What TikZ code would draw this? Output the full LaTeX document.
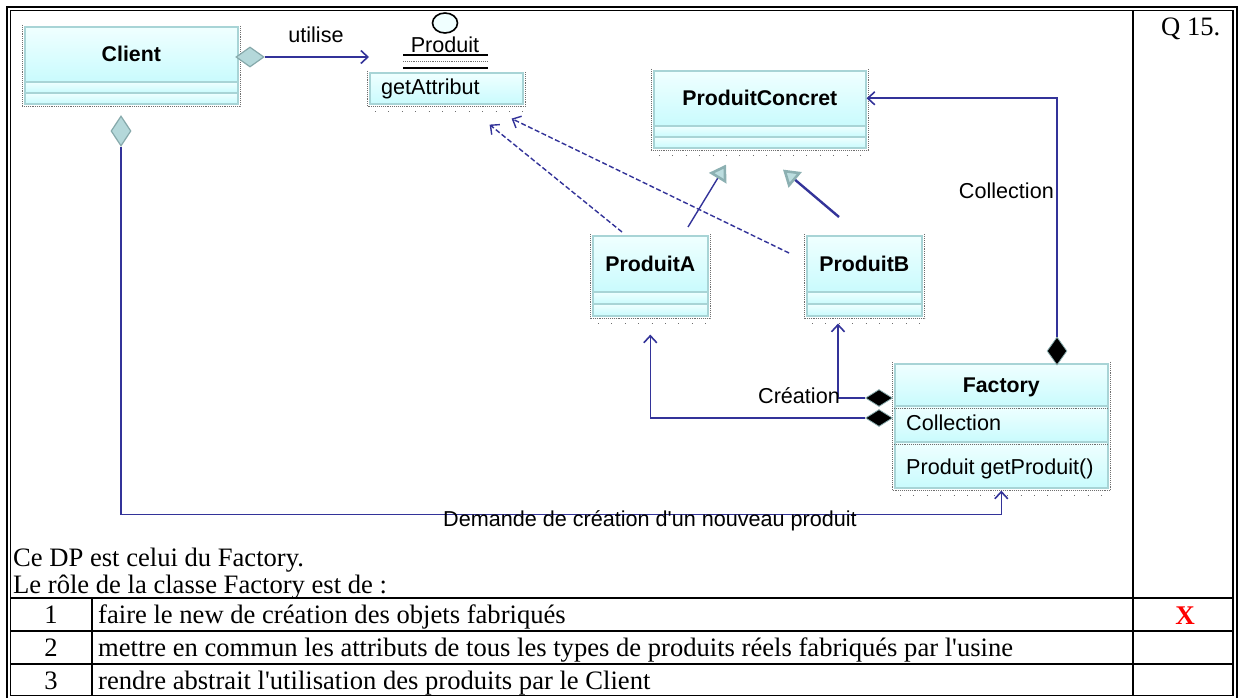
\documentclass[tikz,border=0pt]{standalone}
\usepackage{fontspec}
\setmainfont{Liberation Serif}
\newfontfamily\arial{Liberation Sans}
\usetikzlibrary{shapes.geometric,arrows.meta,calc}
\definecolor{uline}{HTML}{333399}
\definecolor{boxedge}{HTML}{A8D4D6}
\definecolor{boxtop}{HTML}{F0FFFF}
\definecolor{boxbot}{HTML}{C9FBFD}
\definecolor{dshadow}{HTML}{6E6E6E}
\definecolor{odiam}{HTML}{B4D8DA}
\definecolor{odiamedge}{HTML}{86A9AB}
\definecolor{trifill}{HTML}{BCDDDF}
\definecolor{triedge}{HTML}{8CB0B2}
\definecolor{xred}{HTML}{FF0000}
\newcommand\mkcomp[5]{\node[comp, minimum width=#4pt, minimum height=#5pt] (#1) at (#2,#3) {};}
\newcommand\clsdeco[2]{%
  \draw[shadowdot] ([xshift=-2pt,yshift=1pt]#1.north west) -- ([xshift=-2pt,yshift=-2pt]#2.south west)
     -- ([xshift=2pt,yshift=-2pt]#2.south east) -- ([xshift=2pt,yshift=1pt]#1.north east);}
\newcommand\clsticks[1]{%
  \draw[tickline] ([xshift=6pt,yshift=-7pt]#1.south west) -- ([yshift=-7pt]#1.south east);}
\newcommand\sq{\textquotesingle}
\begin{document}
\begin{tikzpicture}[x=1pt,y=-1pt,
  comp/.style={draw=boxedge, line width=1.6pt, top color=boxtop, bottom color=boxbot, inner sep=0pt, anchor=north west},
  shadowdot/.style={draw=dshadow, line width=0.8pt, dash pattern=on 0.8pt off 1.1pt},
  tickline/.style={draw=dshadow, line width=0.9pt, dash pattern=on 0.9pt off 12.5pt},
  clsname/.style={font=\arial\bfseries\fontsize{21.3}{24}\selectfont, inner sep=0pt},
  sanstxt/.style={font=\arial\fontsize{21.6}{24}\selectfont, inner sep=0pt},
  serif/.style={font=\fontsize{26.6}{30}\selectfont, inner sep=0pt},
  frameline/.style={draw=black, line width=1.6pt},
  umlline/.style={draw=uline, line width=1.6pt},
  dashline/.style={draw=uline, line width=1.4pt, dash pattern=on 5pt off 2.5pt},
  openarrow/.style={-{Straight Barb[length=7pt,width=13pt]}},
  gentip/.style={-{Triangle[length=16pt,width=20pt,fill=trifill,color=triedge,line width=2.6pt]}},
  odia/.style={diamond, draw=odiamedge, fill=odiam, line width=1.2pt, inner sep=0pt},
  fdia/.style={diamond, draw=triedge, fill=black, line width=0.8pt, inner sep=0pt}
]
\useasboundingbox (0,0) rectangle (1239,698);
\fill[white] (0,0) rectangle (1239,698);

% ---------- frame and table ----------
\draw[frameline] (7,7) rectangle (1237,699);
\draw[frameline] (10.5,10.5) rectangle (1233,695.5);
\draw[frameline] (1133,10.5) -- (1133,695.5);
\draw[frameline] (10.5,598) -- (1233,598);
\draw[frameline] (10.5,631) -- (1233,631);
\draw[frameline] (10.5,664) -- (1233,664);
\draw[frameline] (92,598) -- (92,695.5);

\node[serif, anchor=base west] (q) at (1161,36) {Q 15.};
\node[serif, anchor=base west] (t1) at (13,566) {Ce DP est celui du Factory.};
\node[serif, anchor=base west] (t2) at (13,593) {Le rôle de la classe Factory est de :};
\node[serif, anchor=base] (n1) at (51,623.5) {1};
\node[serif, anchor=base] (n2) at (51,656.5) {2};
\node[serif, anchor=base] (n3) at (51,689) {3};
\node[serif, anchor=base west] (r1) at (98,623.5) {faire le new de création des objets fabriqués};
\node[serif, anchor=base west] (r2) at (98,656.5) {mettre en commun les attributs de tous les types de produits réels fabriqués par l\sq usine};
\node[serif, anchor=base west] (r3) at (98,689) {rendre abstrait l\sq utilisation des produits par le Client};
\node[serif, anchor=base, text=xred, font=\bfseries\fontsize{27}{30}\selectfont] (xmark) at (1185,624) {X};

% ---------- Client ----------
\mkcomp{cln}{24}{26}{213}{55}
\mkcomp{cla}{24}{81}{213}{11}
\mkcomp{clo}{24}{92}{213}{11}
\clsdeco{cln}{clo}
\node[clsname] (clientlbl) at (cln.center) {Client};

% ---------- Produit (interface) ----------
\node[ellipse, draw=black, line width=1.6pt, fill=boxtop, minimum width=25pt, minimum height=20pt, inner sep=0pt] (pcirc) at (445,23) {};
\node[sanstxt, anchor=base] (pname) at (445,53) {Produit};
\draw[line width=1.6pt] (403,55) -- (488,55);
\draw[shadowdot] (403,61.5) -- (488,61.5);
\draw[line width=1.6pt] (403,68) -- (488,68);
\mkcomp{pga}{369}{72}{153}{31}
\clsdeco{pga}{pga}
\clsticks{pga}
\node[sanstxt, anchor=base west] (getattr) at (381,95) {getAttribut};

% ---------- ProduitConcret ----------
\mkcomp{pcn}{653}{70}{212}{55}
\mkcomp{pca}{653}{125}{212}{11}
\mkcomp{pco}{653}{136}{212}{11}
\clsdeco{pcn}{pco}
\clsticks{pco}
\node[clsname] (pclbl) at (pcn.center) {ProduitConcret};

% ---------- ProduitA ----------
\mkcomp{pan}{592}{235}{115}{56}
\mkcomp{paa}{592}{291}{115}{12}
\mkcomp{pao}{592}{303}{115}{12}
\clsdeco{pan}{pao}
\clsticks{pao}
\node[clsname] (palbl) at (pan.center) {ProduitA};

% ---------- ProduitB ----------
\mkcomp{pbn}{806}{235}{115}{56}
\mkcomp{pba}{806}{291}{115}{12}
\mkcomp{pbo}{806}{303}{115}{12}
\clsdeco{pbn}{pbo}
\clsticks{pbo}
\node[clsname] (pblbl) at (pbn.center) {ProduitB};

% ---------- Factory ----------
\mkcomp{fn}{894}{363}{213}{42}
\mkcomp{fc}{894}{405}{213}{36}
\mkcomp{fo}{894}{441}{213}{46}
\clsdeco{fn}{fo}
\draw[shadowdot] ([yshift=-1.5pt]fn.south west) -- ([yshift=-1.5pt]fn.south east);
\draw[shadowdot] ([yshift=-1.5pt]fc.south west) -- ([yshift=-1.5pt]fc.south east);
\clsticks{fo}
\node[clsname, text depth=0pt] (flbl) at (fn.center) {Factory};
\node[sanstxt, anchor=base west] (fcoll) at (906,430) {Collection};
\node[sanstxt, anchor=base west] (fget) at (906,474) {Produit getProduit()};

% ---------- connectors ----------
% utilise
\node[odia, minimum width=28pt, minimum height=20pt] (cd1) at (250,57) {};
\draw[umlline, openarrow] (cd1.east) -- (cd1.east -| pga.west);
\node[sanstxt, anchor=base] (utl) at (316,43) {utilise};

% Demande de creation
\node[odia, minimum width=20pt, minimum height=30pt] (cd2) at (121,131) {};
\draw[umlline, openarrow] (cd2.south) |- ($(fo.south)+(0,26)$) -- ([yshift=-2pt]fo.south);
\node[sanstxt, anchor=base] (demlbl) at (650,526) {Demande de création d\sq un nouveau produit};

% realisations (dashed)
\draw[dashline, openarrow] ($(pan.north west)+(30,-3)$) -- ($(pga.south east)+(-34,20)$);
\draw[dashline, openarrow] ($(pbn.north west)+(-17,18)$) -- ($(pga.south east)+(-12,14)$);

% generalisations
\draw[umlline, line width=1.4pt, gentip] ($(pan.north west)+(96,-8)$) -- ($(pco.south west)+(73,16)$);
\draw[umlline, line width=2.4pt, gentip] ($(pbn.north west)+(33,-18)$) -- ($(pco.south west)+(130,21)$);

% Collection
\node[fdia, minimum width=20pt, minimum height=28pt] (fd1) at (1057,351) {};
\draw[umlline, openarrow] (fd1.north) |- (pcn.east);
\node[sanstxt, anchor=base east] (colllbl) at (1054,198) {Collection};

% Creation
\node[fdia, minimum width=27pt, minimum height=17pt] (fd2) at (879,398) {};
\node[fdia, minimum width=27pt, minimum height=17pt] (fd3) at (879,418) {};
\draw[umlline, openarrow] (fd2.west) -| ($(pbo.south west)+(32,7)$);
\draw[umlline, openarrow] (fd3.west) -| ($(pao.south)+(0,18)$);
\node[sanstxt, anchor=base east] (crlbl) at (840,403) {Création};
\end{tikzpicture}
\end{document}
